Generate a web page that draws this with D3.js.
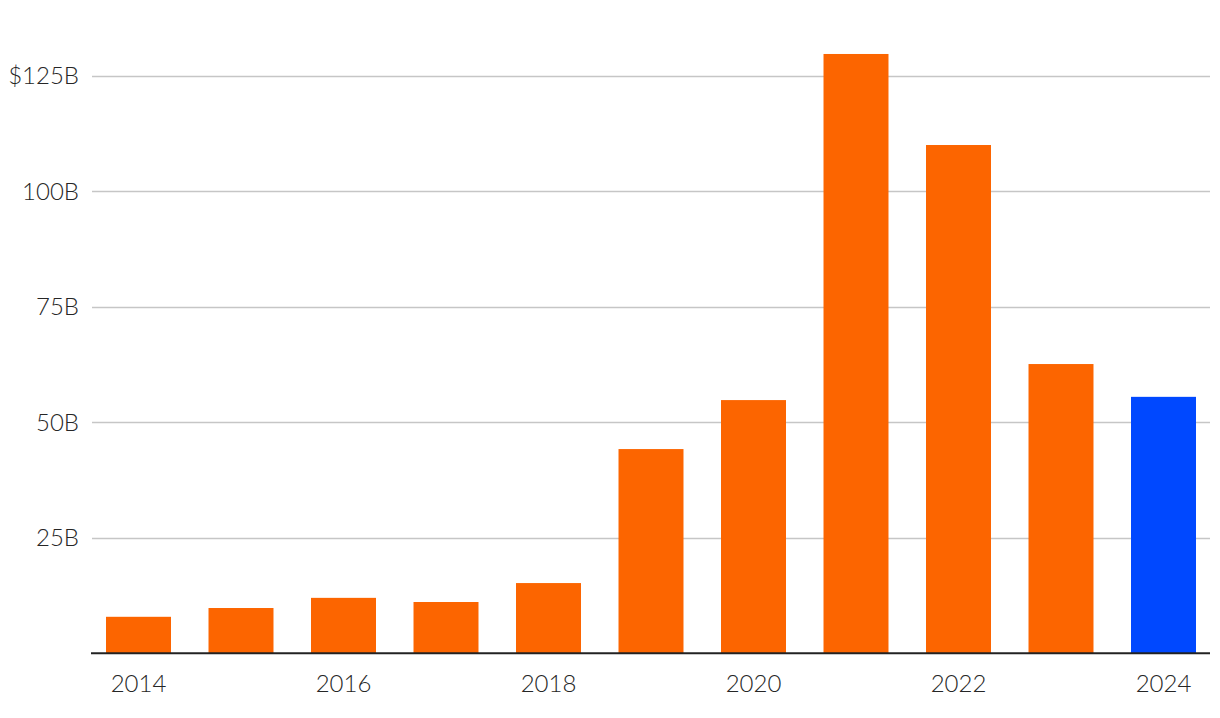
<!DOCTYPE html>
<html><head><meta charset="utf-8">
<script src="https://cdn.jsdelivr.net/npm/d3@7"></script>
<style>
html,body{margin:0;padding:0;background:#fff;}
svg text{font-family:"Source Sans Pro","Lato","Open Sans",sans-serif;font-weight:300;fill:#262626;}
</style></head>
<body><svg id="c" width="1220" height="718"></svg>
<script>
const years = ["2014","2015","2016","2017","2018","2019","2020","2021","2022","2023","2024"];
const values = [7.9, 9.8, 12.0, 11.1, 15.2, 44.2, 54.8, 129.7, 110.0, 62.6, 55.5];
const highlightYears = ["2024"];
const yTicks = [25, 50, 75, 100, 125];
const xTickLabels = ["2014","2016","2018","2020","2022","2024"];

const svg = d3.select("#c");
const baseY = 653.3, gridLeft = 92, gridRight = 1210;
const y = d3.scaleLinear().domain([0, 125]).range([baseY, 75.7]);
const x = d3.scaleBand().domain(years).range([87.25, 1214.75]).paddingInner(0.366).paddingOuter(0.183);

// gridlines
svg.append("g").selectAll("line").data(yTicks).join("line")
  .attr("x1", gridLeft).attr("x2", gridRight)
  .attr("y1", d => Math.round(y(d)) + 0.5).attr("y2", d => Math.round(y(d)) + 0.5)
  .attr("stroke", "#c6c6c6").attr("stroke-width", 1.6);

// y labels
svg.append("g").selectAll("text").data(yTicks).join("text")
  .attr("x", 79).attr("y", d => y(d)).attr("dy", "0.35em")
  .attr("text-anchor", "end").attr("font-size", 24)
  .text(d => d === 125 ? "$" + d + "B" : d + "B");

// bars
svg.append("g").selectAll("rect").data(years).join("rect")
  .attr("x", d => x(d)).attr("width", x.bandwidth())
  .attr("y", (d, i) => y(values[i])).attr("height", (d, i) => baseY - y(values[i]))
  .attr("fill", d => highlightYears.includes(d) ? "#0048FF" : "#FC6500");

// baseline
svg.append("line").attr("x1", 91).attr("x2", gridRight)
  .attr("y1", baseY).attr("y2", baseY).attr("stroke", "#222").attr("stroke-width", 2);

// x labels
svg.append("g").selectAll("text").data(xTickLabels).join("text")
  .attr("x", d => x(d) + x.bandwidth() / 2).attr("y", 683.5).attr("dy", "0.35em")
  .attr("text-anchor", "middle").attr("font-size", 24)
  .text(d => d);
</script></body></html>
